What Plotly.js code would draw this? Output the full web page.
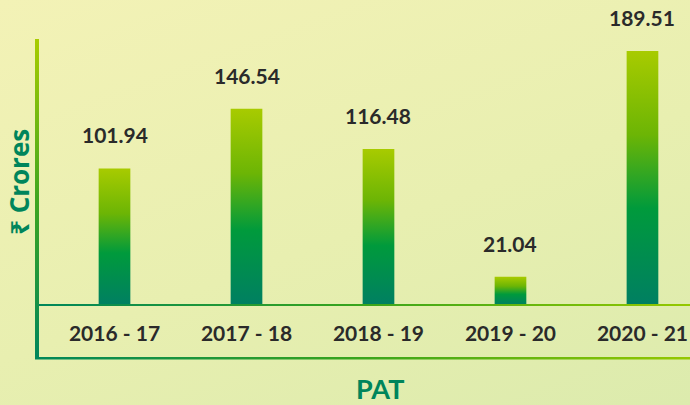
<!DOCTYPE html>
<html>
<head>
<meta charset="utf-8">
<script src="https://cdn.plot.ly/plotly-3.0.1.min.js"></script>
<style>
  html, body { margin: 0; padding: 0; }
  body { width: 690px; height: 405px; overflow: hidden;
         background: linear-gradient(160deg, #f3f2b6 0%, #e8efb0 55%, #dcebad 100%); }
  #chart { width: 690px; height: 405px; }
</style>
</head>
<body>
<svg width="0" height="0" style="position:absolute">
  <defs>
    <linearGradient id="barGrad" x1="0" y1="0" x2="0" y2="1">
      <stop offset="0" stop-color="#a8cb00"/>
      <stop offset="0.33" stop-color="#6cb505"/>
      <stop offset="0.62" stop-color="#009a3c"/>
      <stop offset="1" stop-color="#007f62"/>
    </linearGradient>
    <linearGradient id="vGrad" x1="0" y1="0" x2="0" y2="1">
      <stop offset="0" stop-color="#a8cc00"/>
      <stop offset="0.5" stop-color="#3fa61f"/>
      <stop offset="1" stop-color="#00865c"/>
    </linearGradient>
    <linearGradient id="hGrad" x1="0" y1="0" x2="1" y2="0">
      <stop offset="0" stop-color="#00875a"/>
      <stop offset="0.5" stop-color="#3aa51c"/>
      <stop offset="1" stop-color="#95c800"/>
    </linearGradient>
  </defs>
</svg>
<div id="chart"></div>
<script>
const categories = ['2016 - 17', '2017 - 18', '2018 - 19', '2019 - 20', '2020 - 21'];
const patValues = [101.94, 146.54, 116.48, 21.04, 189.51];
const valueLabels = ['101.94', '146.54', '116.48', '21.04', '189.51'];
const yTitle = '₹ Crores';
const xTitle = 'PAT';

const W = 690, H = 405;
const plotLeft = 39, plotBottom = 305;
const px = x => (x - plotLeft) / (W - plotLeft);
const py = y => (plotBottom - y) / plotBottom;

const trace = {
  type: 'bar',
  x: categories.map((c, i) => i),
  y: patValues,
  width: 0.24,
  marker: { color: '#6cb505', line: { width: 0 } },
  hoverinfo: 'none'
};

const annotations = patValues.map((v, i) => ({
  x: i, y: v, xref: 'x', yref: 'y',
  text: valueLabels[i], showarrow: false,
  yanchor: 'bottom', yshift: 19,
  font: { family: 'Lato, "Open Sans", sans-serif', size: 21, color: '#2a2a2a', weight: 700 }
}));
annotations.push({
  x: px(380), y: py(388), xref: 'paper', yref: 'paper',
  text: xTitle, showarrow: false, xanchor: 'center', yanchor: 'middle',
  font: { family: 'Lato, "Open Sans", sans-serif', size: 27, color: '#00855b', weight: 700 }
});
annotations.push({
  x: px(19), y: py(182), xref: 'paper', yref: 'paper',
  text: yTitle, showarrow: false, textangle: -90, xanchor: 'center', yanchor: 'middle',
  font: { family: '"Open Sans", "Noto Sans", sans-serif', size: 26, color: '#00855b', weight: 700 }
});

const shapes = [
  { type: 'rect', xref: 'paper', yref: 'paper', x0: px(35), x1: px(39), y0: py(39), y1: py(359),
    fillcolor: '#3fa61f', line: { width: 0 }, layer: 'above' },
  { type: 'rect', xref: 'paper', yref: 'paper', x0: px(39), x1: px(690), y0: py(304), y1: py(306),
    fillcolor: '#3aa51c', line: { width: 0 }, layer: 'above' },
  { type: 'rect', xref: 'paper', yref: 'paper', x0: px(35), x1: px(690), y0: py(357), y1: py(359.5),
    fillcolor: '#3aa51c', line: { width: 0 }, layer: 'above' }
];

const layout = {
  width: W, height: H,
  margin: { l: plotLeft, r: 0, t: 0, b: H - plotBottom, pad: 0 },
  paper_bgcolor: 'rgba(0,0,0,0)',
  plot_bgcolor: 'rgba(0,0,0,0)',
  showlegend: false,
  xaxis: {
    range: [-0.572, 4.36],
    tickmode: 'array', tickvals: categories.map((c, i) => i), ticktext: categories,
    ticks: '', showgrid: false, zeroline: false, showline: false,
    ticklabelstandoff: 14,
    tickfont: { family: 'Lato, "Open Sans", sans-serif', size: 21, color: '#2a2a2a', weight: 700 },
    fixedrange: true
  },
  yaxis: {
    range: [0, plotBottom / 1.34],
    visible: false, showgrid: false, zeroline: false, fixedrange: true
  },
  shapes: shapes,
  annotations: annotations
};

Plotly.newPlot('chart', [trace], layout, { displayModeBar: false, staticPlot: true }).then(gd => {
  gd.querySelectorAll('.trace.bars .point path').forEach(p => { p.style.fill = 'url(#barGrad)'; });
  const sh = gd.querySelectorAll('.shapelayer path');
  sh.forEach(p => {
    const idx = +p.getAttribute('data-index');
    p.style.fill = idx === 0 ? 'url(#vGrad)' : 'url(#hGrad)';
  });
});
</script>
</body>
</html>
